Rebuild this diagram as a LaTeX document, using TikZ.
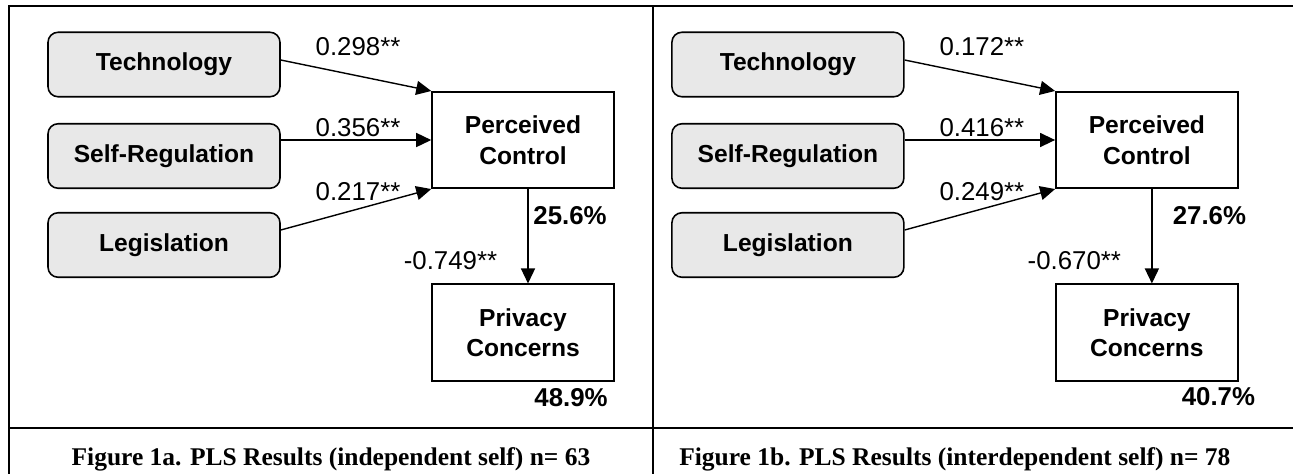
\documentclass[tikz,border=0pt]{standalone}
\usepackage{fontspec}
\setmainfont{Liberation Sans}
\newfontfamily\capfont{Liberation Serif}
\usetikzlibrary{positioning, arrows.meta}
\definecolor{BoxGray}{RGB}{232,232,232}
\tikzset{
  cause/.style={draw, line width=0.9pt, rounded corners=0.2cm, fill=BoxGray, minimum width=4.64cm,
    minimum height=1.29cm, inner sep=0pt, font=\fontsize{14}{17.4}\selectfont\bfseries},
  construct/.style={draw, line width=0.9pt, fill=white, minimum width=3.64cm, minimum height=1.93cm,
    inner sep=0pt, align=center, font=\fontsize{14}{17.4}\selectfont\bfseries},
  link/.style={-{Triangle[length=0.3cm, width=0.28cm]}, line width=0.8pt},
  coef/.style={inner sep=0pt, font=\fontsize{14.7}{17}\selectfont},
  rsq/.style={inner sep=0pt, font=\fontsize{14.7}{17}\selectfont\bfseries},
  figcap/.style={inner sep=0pt, font=\capfont\fontsize{14.5}{17}\selectfont\bfseries},
  rule/.style={line width=1.3pt}
}
\begin{document}
\begin{tikzpicture}[x=0.02cm, y=-0.02cm]
  \useasboundingbox (0,0) rectangle (1293,474);
  % table rules
  \draw[rule] (8,6) -- (1293,6);
  \draw[rule] (9,5) -- (9,474);
  \draw[rule] (653,5) -- (653,474);
  \draw[rule] (8,428) -- (1293,428);

  % panel a: independent self
  \node[cause] (atech) at (164,64.5) {Technology};
  \node[cause] (asr) at (164,156) {Self-Regulation};
  \node[cause] (aleg) at (164,245) {Legislation};
  \node[construct] (apc) at (523,140) {Perceived\\ Control};
  \node[construct] (apr) at (523,332.5) {Privacy\\ Concerns};
  \draw[link] ([yshift=0.09cm]atech.east) -- (apc.north west);
  \draw[link] (asr.east |- apc.west) -- (apc.west);
  \draw[link] ([yshift=0.3cm]aleg.east) -- (apc.south west);
  \draw[link] ([xshift=0.1cm]apc.south) -- ([xshift=0.1cm]apr.north);
  \node[coef] (atechval) at (358,47) {0.298**};
  \node[coef] (asrval) at (358,127.5) {0.356**};
  \node[coef] (alegval) at (358,191.5) {0.217**};
  \node[coef] (apcval) at (450.5,261) {-0.749**};
  \node[rsq] (apcrsq) at (570,216) {25.6\%};
  \node[rsq] (aprrsq) at (571,398) {48.9\%};
  \node[figcap] (acap) at (331,459) {Figure 1a. PLS Results (independent self) n= 63};

  % panel b: interdependent self
  \begin{scope}[xshift=12.48cm]
    \node[cause] (btech) at (164,64.5) {Technology};
    \node[cause] (bsr) at (164,156) {Self-Regulation};
    \node[cause] (bleg) at (164,245) {Legislation};
    \node[construct] (bpc) at (523,140) {Perceived\\ Control};
    \node[construct] (bpr) at (523,332.5) {Privacy\\ Concerns};
    \draw[link] ([yshift=0.09cm]btech.east) -- (bpc.north west);
    \draw[link] (bsr.east |- bpc.west) -- (bpc.west);
    \draw[link] ([yshift=0.3cm]bleg.east) -- (bpc.south west);
    \draw[link] ([xshift=0.1cm]bpc.south) -- ([xshift=0.1cm]bpr.north);
    \node[coef] (btechval) at (358,47) {0.172**};
    \node[coef] (bsrval) at (358,127.5) {0.416**};
    \node[coef] (blegval) at (358,191.5) {0.249**};
    \node[coef] (bpcval) at (450.5,261) {-0.670**};
    \node[rsq] (bpcrsq) at (585.5,216) {27.6\%};
    \node[rsq] (bprrsq) at (594.5,397) {40.7\%};
    \node[figcap] (bcap) at (331,459) {Figure 1b. PLS Results (interdependent self) n= 78};
  \end{scope}
\end{tikzpicture}
\end{document}
